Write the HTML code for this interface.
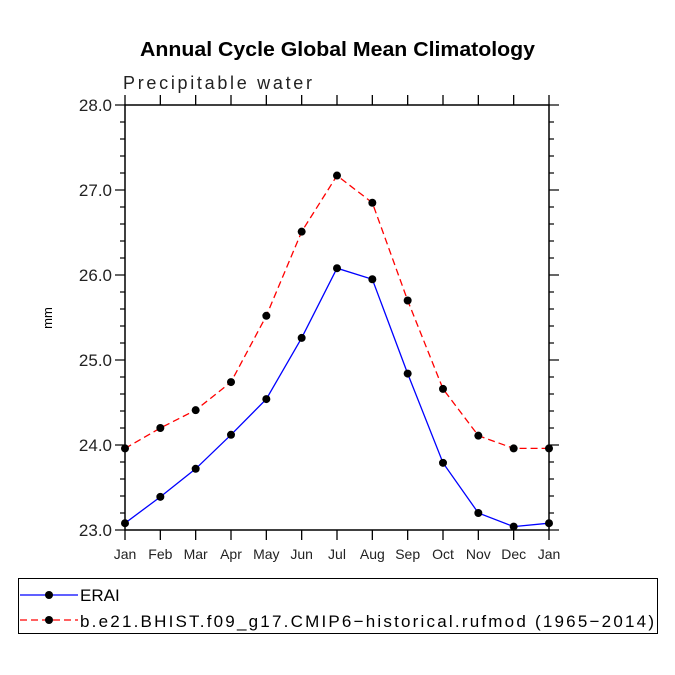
<!DOCTYPE html>
<html><head><meta charset="utf-8"><style>
body{margin:0;background:#fff}
svg{display:block;font-family:"Liberation Sans",sans-serif}
</style></head><body>
<svg id="c" width="675" height="675" viewBox="0 0 675 675">
<text x="140" y="56" font-weight="bold" font-size="20" textLength="395" lengthAdjust="spacingAndGlyphs">Annual Cycle Global Mean Climatology</text>
<text x="123" y="89" font-size="18" fill="#222" textLength="189" lengthAdjust="spacing">Precipitable water</text>
<text x="0" y="0" font-size="13" transform="translate(52,318) rotate(-90)" text-anchor="middle">mm</text>
<g id="axes"></g>
<g id="marks"></g>
<g>
<rect x="18.5" y="578.5" width="639" height="55" fill="none" stroke="#000"/>
<g>
<line x1="20" y1="595" x2="78" y2="595" stroke="#00f" stroke-width="1.3"/><circle cx="49" cy="595" r="4" fill="#000"/>
<text x="80" y="601" font-size="17">ERAI</text></g>
<g>
<line x1="20" y1="620" x2="78" y2="620" stroke="#f00" stroke-width="1.3" stroke-dasharray="7,4"/><circle cx="49" cy="620" r="4" fill="#000"/>
<text x="80" y="627" font-size="17" textLength="574">b.e21.BHIST.f09_g17.CMIP6−historical.rufmod (1965−2014)</text></g>
</g>
</svg>
<script>
const months=["Jan","Feb","Mar","Apr","May","Jun","Jul","Aug","Sep","Oct","Nov","Dec","Jan"];
const eraiValues=[23.08,23.39,23.72,24.12,24.54,25.26,26.08,25.95,24.84,23.79,23.20,23.04,23.08];
const modelValues=[23.96,24.20,24.41,24.74,25.52,26.51,27.17,26.85,25.70,24.66,24.11,23.96,23.96];
const yTicks=[23,24,25,26,27,28];
const yTickLabels=["23.0","24.0","25.0","26.0","27.0","28.0"];
const L=125,R=549,T=105,B=530,ymin=23,ymax=28;
const NS="http://www.w3.org/2000/svg";
function xs(i){return L+(R-L)*i/(months.length-1);}
function ys(v){return B-(v-ymin)/(ymax-ymin)*(B-T);}
function mk(t,a,p){const e=document.createElementNS(NS,t);for(const k in a)e.setAttribute(k,a[k]);p.appendChild(e);return e;}
const ax=document.getElementById('axes'),mg=document.getElementById('marks');
const frame=mk('rect',{x:L,y:T,width:R-L,height:B-T,fill:'none',stroke:'#000','stroke-width':1.5},ax);


months.forEach((m,i)=>{const x=xs(i);
 mk('line',{x1:x,y1:B,x2:x,y2:B+10,stroke:'#000','stroke-width':1.3},ax);
 mk('line',{x1:x,y1:T,x2:x,y2:T-10,stroke:'#000','stroke-width':1.3},ax);
 const t=mk('text',{x:x,y:B+29,'text-anchor':'middle','font-size':14,fill:'#222'},ax);t.textContent=m;
 
 
});
for(let v=ymin;v<=ymax+1e-9;v+=0.2){const y=ys(v);const major=Math.abs(v-Math.round(v))<1e-6;const l=major?10:5;
 mk('line',{x1:L-l,y1:y,x2:L,y2:y,stroke:'#000','stroke-width':1.2},ax);
 mk('line',{x1:R,y1:y,x2:R+l,y2:y,stroke:'#000','stroke-width':1.2},ax);}
yTicks.forEach((v,i)=>{const t=mk('text',{x:L-13,y:ys(v)+6,'text-anchor':'end','font-size':17,fill:'#222'},ax);t.textContent=yTickLabels[i];
 
 });
function series(vals,color,dash,name){
 const p=mk('polyline',{points:vals.map((v,i)=>xs(i)+','+ys(v)).join(' '),fill:'none',stroke:color,'stroke-width':1.3},mg);
 if(dash)p.setAttribute('stroke-dasharray',dash);
 
 
 vals.forEach((v,i)=>{const c=mk('circle',{cx:xs(i),cy:ys(v),r:4,fill:'#000'},mg);
  
  });
}
series(modelValues,'#f00','7,4','model');
series(eraiValues,'#00f',null,'erai');
</script>
</body></html>
